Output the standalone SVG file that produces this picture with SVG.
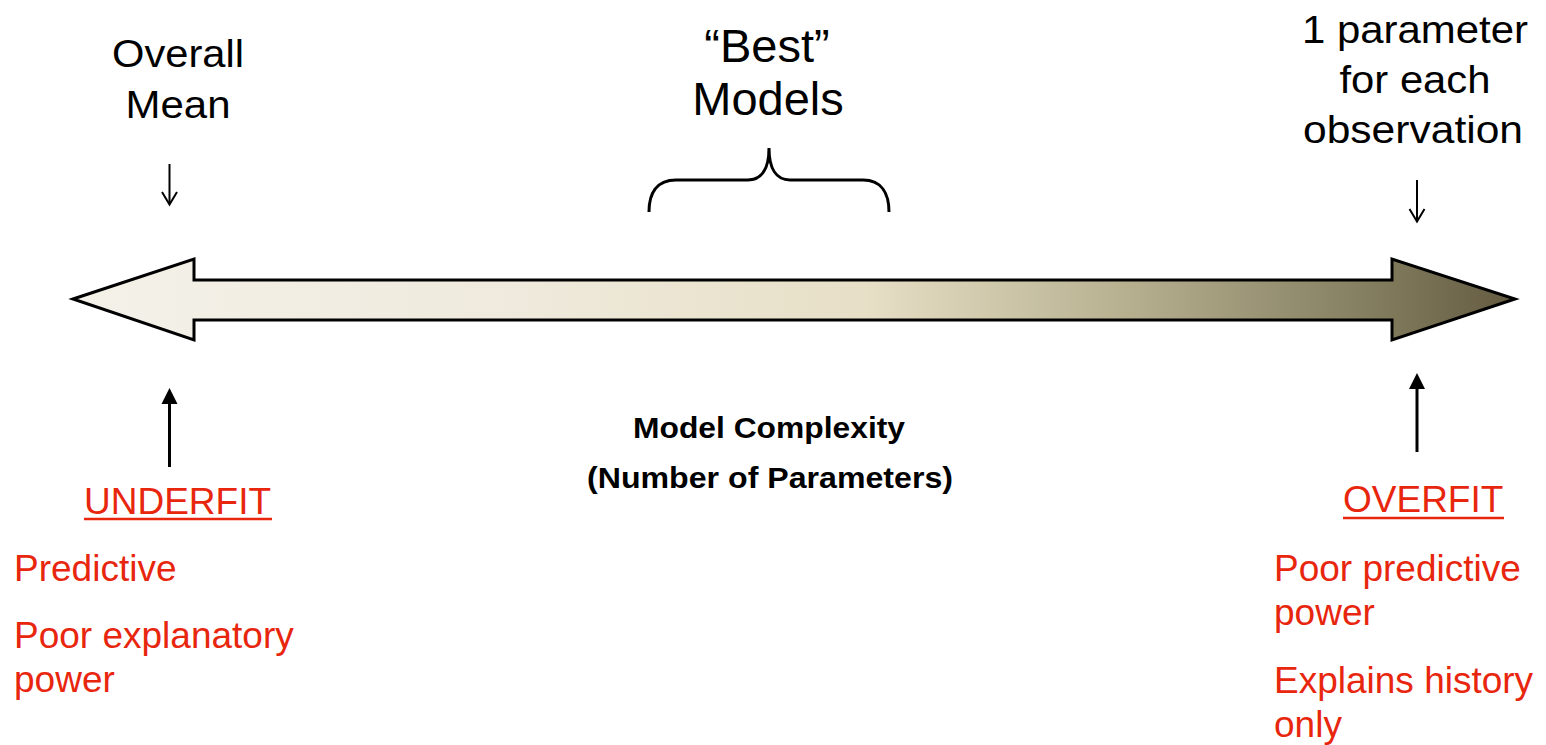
<svg xmlns="http://www.w3.org/2000/svg" width="1546" height="745" viewBox="0 0 1546 745">
  <defs>
    <linearGradient id="complexityFill" gradientUnits="userSpaceOnUse" x1="73" y1="0" x2="1515" y2="0">
      <stop offset="0" stop-color="#f4f1e9"/>
      <stop offset="0.3" stop-color="#efeadd"/>
      <stop offset="0.55" stop-color="#e7dfc6"/>
      <stop offset="0.72" stop-color="#b9b393"/>
      <stop offset="0.88" stop-color="#8a8466"/>
      <stop offset="1" stop-color="#645b40"/>
    </linearGradient>
  </defs>
  <style>
    .label { font-family: "Liberation Sans", Arial, sans-serif; font-size: 38px; fill: #000; text-anchor: middle; }
    .big { font-size: 47px; }
    .axis { font-family: "Liberation Sans", Arial, sans-serif; font-size: 29px; font-weight: bold; fill: #000; text-anchor: middle; }
    .note { font-family: "Liberation Sans", Arial, sans-serif; font-size: 37px; fill: #e8260e; }
    .line { stroke: #000; stroke-width: 2; fill: none; }
    .thick { stroke: #000; stroke-width: 3; fill: none; }
    .head { fill: #000; }
    .rule { stroke: #e8260e; stroke-width: 2.5; }
  </style>

  <rect width="1546" height="745" fill="#fff"/>

  <!-- complexity axis: double-headed block arrow -->
  <g id="axis">
    <polygon points="73,299 194,259 194,280 1392,280 1392,259 1515,299 1392,340 1392,320 194,320 194,340" fill="url(#complexityFill)" stroke="#000" stroke-width="3" stroke-linejoin="miter"/>
  </g>

  <g id="overall-mean">
    <text class="label" x="178" y="67" textLength="132" lengthAdjust="spacingAndGlyphs">Overall</text>
    <text class="label" x="178" y="118" textLength="105" lengthAdjust="spacingAndGlyphs">Mean</text>
  </g>

  <g id="best-models">
    <text class="label big" x="767" y="62">“Best”</text>
    <text class="label big" x="768" y="115">Models</text>
  </g>

  <g id="one-per-observation">
    <text class="label" x="1415" y="43" textLength="226" lengthAdjust="spacingAndGlyphs">1 parameter</text>
    <text class="label" x="1415" y="93" textLength="151" lengthAdjust="spacingAndGlyphs">for each</text>
    <text class="label" x="1413" y="143" textLength="220" lengthAdjust="spacingAndGlyphs">observation</text>
  </g>

  <g id="axis-title">
    <text class="axis" x="769" y="438" textLength="272" lengthAdjust="spacingAndGlyphs">Model Complexity</text>
    <text class="axis" x="770" y="488" textLength="366" lengthAdjust="spacingAndGlyphs">(Number of Parameters)</text>
  </g>

  <g id="underfit">
    <text class="note" x="84" y="514">UNDERFIT</text>
    <line class="rule" x1="84" y1="519" x2="272" y2="519"/>
    <text class="note" x="14" y="581">Predictive</text>
    <text class="note" x="14" y="648">Poor explanatory</text>
    <text class="note" x="14" y="692">power</text>
  </g>

  <g id="overfit">
    <text class="note" x="1343" y="512">OVERFIT</text>
    <line class="rule" x1="1343" y1="518" x2="1504" y2="518"/>
    <text class="note" x="1274" y="581">Poor predictive</text>
    <text class="note" x="1274" y="625">power</text>
    <text class="note" x="1274" y="693">Explains history</text>
    <text class="note" x="1274" y="737">only</text>
  </g>

  <!-- pointers and the brace -->
  <g id="connectors">
    <path class="thick" d="M649,212 C649,194 656,180 676,180 L748,180 C762,180 769,168 769,148 C769,168 776,180 790,180 L863,180 C882,180 889,194 889,212"/>
    <line class="line" x1="169.5" y1="164" x2="169.5" y2="204"/>
    <path class="line" d="M162,192 L169.5,204.5 L177,192"/>
    <line class="line" x1="1417" y1="180" x2="1417" y2="221"/>
    <path class="line" d="M1409.5,209 L1417,221.5 L1424.5,209"/>
    <line class="thick" x1="169.5" y1="467" x2="169.5" y2="400"/>
    <polygon class="head" points="169.5,388 161.5,404 177.5,404"/>
    <line class="thick" x1="1417" y1="452" x2="1417" y2="385"/>
    <polygon class="head" points="1417,373 1409,389 1425,389"/>
  </g>
</svg>
